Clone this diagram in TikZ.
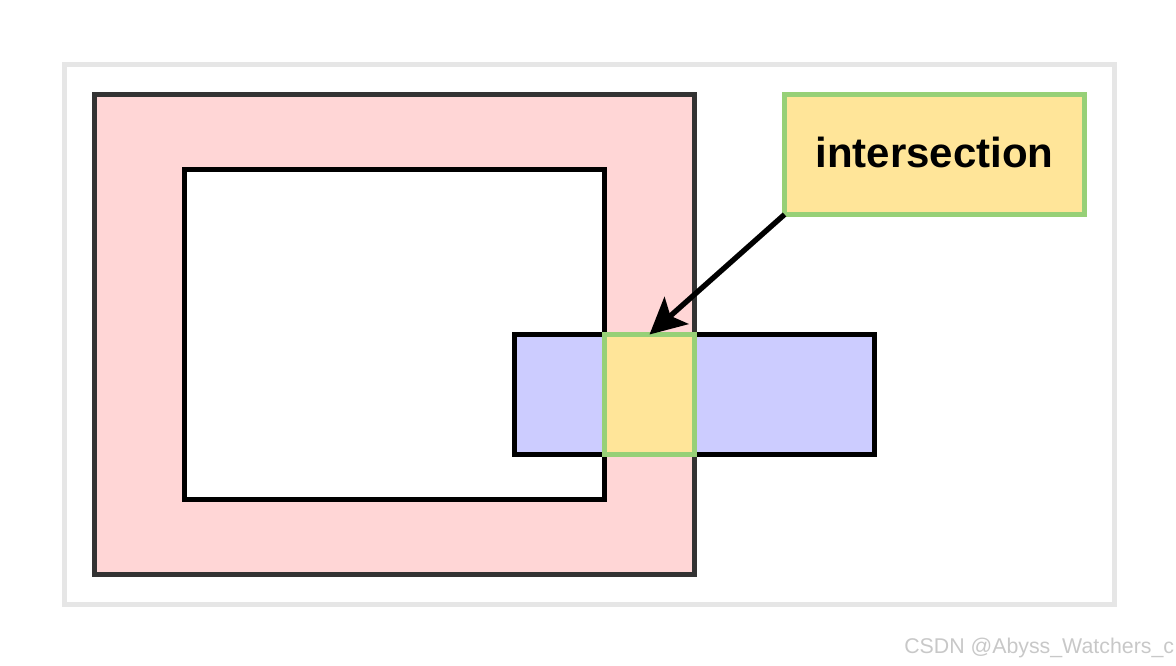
\documentclass[tikz,border=0pt]{standalone}
\usepackage{fontspec}
\setmainfont{Liberation Sans}
\usepackage{xcolor}
\definecolor{cFrame}{HTML}{E6E6E6}
\definecolor{cRed}{HTML}{FFD6D6}
\definecolor{cRedLine}{HTML}{333333}
\definecolor{cBlue}{HTML}{CCCCFF}
\definecolor{cYellow}{HTML}{FFE599}
\definecolor{cGreen}{HTML}{97D077}
\definecolor{cMark}{HTML}{C8C8C8}
\usepackage{tikz}
\usetikzlibrary{arrows.meta}
\tikzset{
  area-frame/.style={draw=cFrame,line width=4pt},
  area-red/.style={draw=cRedLine,fill=cRed,line width=4pt},
  area-white/.style={draw=black,fill=white,line width=4pt},
  area-blue/.style={draw=black,fill=cBlue,line width=4pt},
  node-hit/.style={draw=cGreen,fill=cYellow,line width=4pt,outer sep=0pt,
    inner sep=0pt,align=center},
  arrow/.style={-{Stealth[length=27pt,width=27pt,inset=6pt]},line width=4pt,draw=black},
}

\begin{document}
\begin{tikzpicture}[x=0.75pt,y=-0.75pt]
  \useasboundingbox (0,0) rectangle (1176,666);
  \draw[area-frame] (64.5,64.5) rectangle (1114.5,604.5);
  \draw[area-red] (94.5,94.5) rectangle (694.5,574.5);
  \draw[area-white] (184.5,169.5) rectangle (604.5,499.5);
  \draw[area-blue] (514.5,334.5) rectangle (874.5,454.5);
  \node[node-hit,minimum width=67.5pt,minimum height=90pt] (hit) at (649.5,394.5) {};
  \node[node-hit,minimum width=225pt,minimum height=90pt,text depth=3pt,
    font=\bfseries\fontsize{31.5}{36}\selectfont] (lbl) at (934.5,154.5) {intersection};
  \draw[arrow] (lbl.south west) -- (hit.north);
  \node[anchor=base west,inner sep=0pt,text=cMark,font=\fontsize{16}{18}\selectfont]
    (mark) at (904,653) {CSDN @Abyss\_Watchers\_c};
\end{tikzpicture}
\end{document}
